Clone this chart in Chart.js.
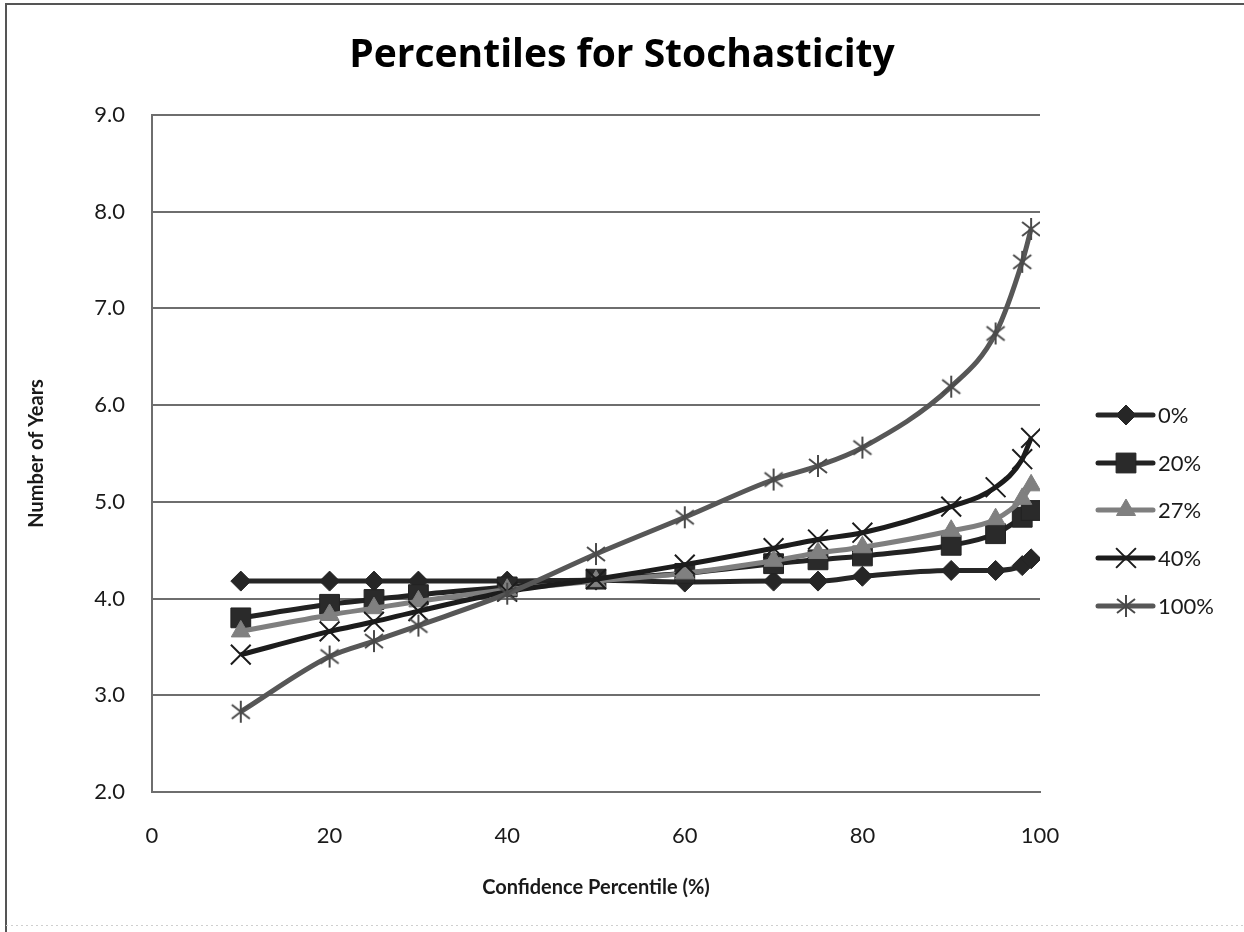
<!DOCTYPE html>
<html>
<head>
<meta charset="utf-8">
<title>Percentiles for Stochasticity</title>
<script src="https://cdn.jsdelivr.net/npm/chart.js@4.4.1/dist/chart.umd.min.js"></script>
<style>
  html, body { margin: 0; padding: 0; background: #fff; }
  #wrap { width: 1244px; height: 932px; }
</style>
</head>
<body>
<div id="wrap"><canvas id="myChart" width="1244" height="932"></canvas></div>
<script>
// confidence percentiles on the x axis
const percentiles = [10, 20, 25, 30, 40, 50, 60, 70, 75, 80, 90, 95, 98, 99];

// number of years for each stochasticity level
const years0   = [4.18, 4.18, 4.18, 4.18, 4.18, 4.19, 4.17, 4.18, 4.18, 4.23, 4.29, 4.29, 4.34, 4.41];
const years20  = [3.80, 3.94, 3.99, 4.04, 4.12, 4.20, 4.26, 4.36, 4.40, 4.44, 4.55, 4.67, 4.84, 4.91];
const years27  = [3.66, 3.83, 3.90, 3.97, 4.09, 4.18, 4.26, 4.39, 4.47, 4.53, 4.70, 4.82, 5.03, 5.17];
const years40  = [3.42, 3.66, 3.76, 3.87, 4.07, 4.20, 4.35, 4.52, 4.61, 4.68, 4.95, 5.15, 5.44, 5.66];
const years100 = [2.83, 3.40, 3.56, 3.72, 4.05, 4.46, 4.84, 5.23, 5.37, 5.56, 6.19, 6.74, 7.48, 7.82];

const seriesNames = ['0%', '20%', '27%', '40%', '100%'];
const yTicks = [2, 3, 4, 5, 6, 7, 8, 9];
const xTicks = [0, 20, 40, 60, 80, 100];

// asterisk marker: an X with a vertical bar through it
function makeAsterisk(color) {
  const c = document.createElement('canvas');
  c.width = 24; c.height = 24;
  const g = c.getContext('2d');
  g.strokeStyle = color;
  g.lineWidth = 2;
  g.beginPath();
  g.moveTo(3, 5); g.lineTo(21, 19);
  g.moveTo(21, 5); g.lineTo(3, 19);
  g.moveTo(12, 1); g.lineTo(12, 23);
  g.stroke();
  return c;
}

function toPoints(vals) {
  return vals.map((v, i) => ({ x: percentiles[i], y: v }));
}

const styles = [
  { color: '#262626', fill: '#262626', pointStyle: 'rectRot', radius: 10, pw: 1 },
  { color: '#222222', fill: '#2a2a2a', pointStyle: 'rect', radius: 14, pw: 1 },
  { color: '#7f7f7f', fill: '#808080', pointStyle: 'triangle', radius: 11, pw: 1 },
  { color: '#1c1c1c', fill: '#1c1c1c', pointStyle: 'crossRot', radius: 14, pw: 2 },
  { color: '#575757', fill: '#575757', pointStyle: makeAsterisk('#4a4a4a'), radius: 12, pw: 2 }
];

const allSeries = [years0, years20, years27, years40, years100];

const datasets = allSeries.map((vals, i) => ({
  label: seriesNames[i],
  data: toPoints(vals),
  borderColor: styles[i].color,
  backgroundColor: styles[i].fill,
  pointBackgroundColor: styles[i].fill,
  pointBorderColor: i === 4 ? '#4a4a4a' : styles[i].color,
  pointBorderWidth: styles[i].pw,
  pointStyle: styles[i].pointStyle,
  pointRadius: styles[i].radius,
  borderWidth: 5,
  cubicInterpolationMode: 'monotone',
  order: 4 - i
}));

// white page with the outer frame
const frame = {
  id: 'frame',
  beforeDraw(chart) {
    const ctx = chart.ctx;
    ctx.save();
    ctx.fillStyle = '#fff';
    ctx.fillRect(0, 0, chart.width, chart.height);
    ctx.strokeStyle = '#555';
    ctx.lineWidth = 2;
    ctx.beginPath();
    ctx.moveTo(6, 932);
    ctx.lineTo(6, 4);
    ctx.lineTo(1244, 4);
    ctx.stroke();
    ctx.strokeStyle = '#cfcfcf';
    ctx.lineWidth = 1;
    ctx.setLineDash([2, 3]);
    ctx.beginPath();
    ctx.moveTo(6, 925.5);
    ctx.lineTo(1244, 925.5);
    ctx.stroke();
    ctx.restore();
  }
};

// legend on the right: line sample with the marker in the middle
const sideLegend = {
  id: 'sideLegend',
  afterDraw(chart) {
    const ctx = chart.ctx;
    const x0 = 1098, x1 = 1153, xm = 1126, tx = 1158;
    const rows = [415, 463, 510, 558, 606];
    ctx.save();
    chart.data.datasets.forEach((ds, i) => {
      const y = rows[i];
      ctx.strokeStyle = ds.borderColor;
      ctx.lineWidth = 5;
      ctx.lineCap = 'round';
      ctx.beginPath();
      ctx.moveTo(x0, y);
      ctx.lineTo(x1, y);
      ctx.stroke();
      ctx.lineCap = 'butt';
      ctx.fillStyle = ds.pointBackgroundColor;
      ctx.strokeStyle = ds.pointBorderColor;
      ctx.lineWidth = ds.pointBorderWidth;
      Chart.helpers.drawPoint(ctx, {
        pointStyle: ds.pointStyle,
        radius: ds.pointRadius,
        rotation: 0,
        borderWidth: ds.pointBorderWidth
      }, xm, y);
      ctx.fillStyle = '#1a1a1a';
      ctx.font = '22px Lato';
      ctx.textBaseline = 'middle';
      ctx.textAlign = 'left';
      ctx.fillText(ds.label, tx, y + 1);
    });
    ctx.restore();
  }
};

const canva = document.getElementById('myChart').getContext('2d');

const myChart = new Chart(canva, {
  type: 'line',
  data: { datasets: datasets },
  plugins: [frame, sideLegend],
  options: {
    responsive: false,
    animation: false,
    layout: { padding: { top: 0, right: 0, bottom: 0, left: 0 } },
    plugins: {
      legend: { display: false },
      tooltip: { enabled: false },
      title: {
        display: true,
        text: 'Percentiles for Stochasticity',
        color: '#000',
        font: { family: 'Open Sans', size: 39, weight: 'bold' },
        padding: { top: 32, bottom: 36 }
      }
    },
    scales: {
      x: {
        type: 'linear',
        min: 0,
        max: 100,
        afterBuildTicks: (s) => { s.ticks = xTicks.map(v => ({ value: v })); },
        afterFit: (s) => { s.height = 140; },
        grid: { display: false, drawTicks: false },
        border: { display: true, color: '#6e6e6e', width: 2 },
        ticks: {
          padding: 31,
          color: '#1a1a1a',
          font: { family: 'Lato', size: 22 }
        },
        title: {
          display: true,
          text: 'Confidence Percentile (%)',
          color: '#1a1a1a',
          font: { family: 'Lato', size: 20, weight: 'bold' },
          padding: { top: 0, bottom: 32 }
        }
      },
      y: {
        min: 2,
        max: 9,
        afterBuildTicks: (s) => { s.ticks = yTicks.map(v => ({ value: v })); },
        afterFit: (s) => { s.width = 152; },
        grid: { color: '#6e6e6e', lineWidth: 2, drawTicks: false },
        border: { display: true, color: '#6e6e6e', width: 2 },
        ticks: {
          padding: 27,
          color: '#1a1a1a',
          font: { family: 'Lato', size: 22 },
          callback: (v) => v.toFixed(1)
        },
        title: {
          display: true,
          text: 'Number of Years',
          color: '#1a1a1a',
          font: { family: 'Lato', size: 20, weight: 'bold' },
          padding: { top: 25, bottom: 0 }
        }
      },
      // empty right-hand axis that reserves the space the legend sits in
      side: {
        type: 'linear',
        position: 'right',
        min: 0,
        max: 1,
        afterFit: (s) => { s.width = 204; },
        grid: { display: false, drawTicks: false },
        border: { display: false },
        ticks: { display: false }
      }
    }
  }
});
</script>
</body>
</html>
